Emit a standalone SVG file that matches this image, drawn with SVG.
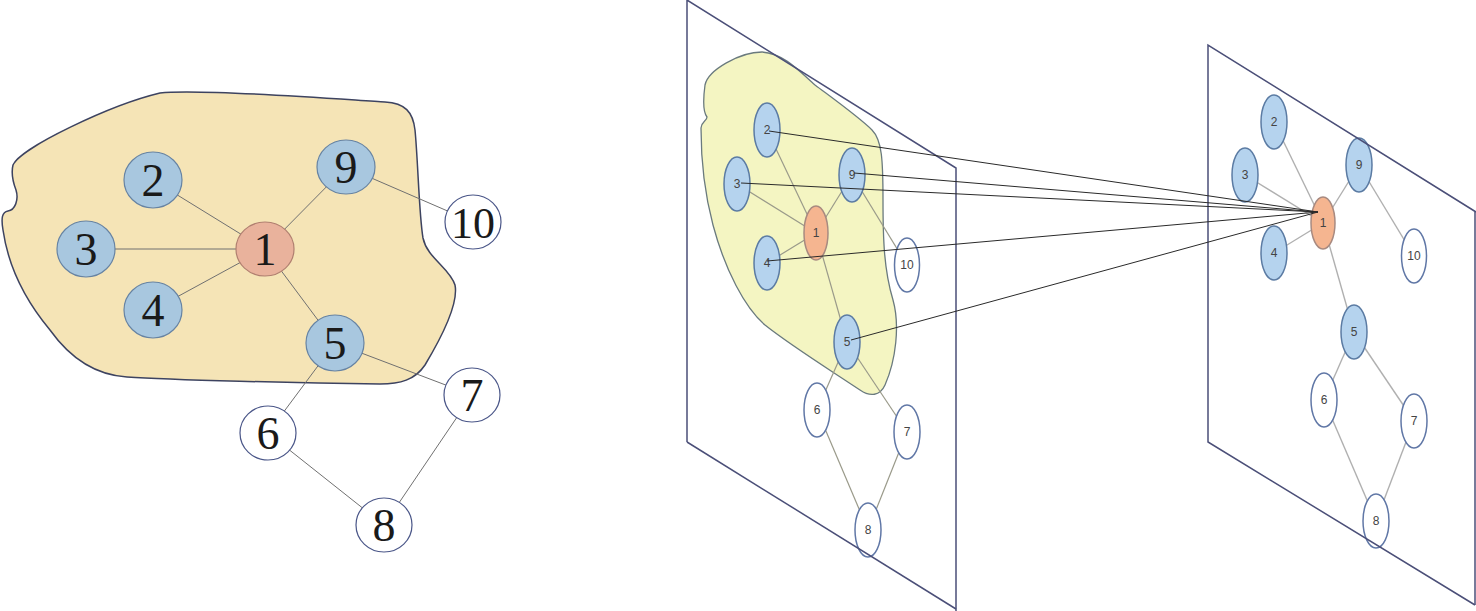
<svg xmlns="http://www.w3.org/2000/svg" width="1476" height="611" viewBox="0 0 1476 611">
<style>
.bg{fill:#ffffff}
.blobL{fill:#F5E4B6;stroke:#3d4360;stroke-width:1.5}
.blobM{fill:#F4F5C2;stroke:#6a7a7e;stroke-width:1.3}
.plane{fill:none;stroke:#4b4f78;stroke-width:1.5}
.eL{stroke:#707070;stroke-width:1;fill:none}
.eM{stroke:#9a9a8a;stroke-width:1.2;fill:none}
.eR{stroke:#b0b0b0;stroke-width:1.4;fill:none}
.x{stroke:#2a2a2a;stroke-width:1;fill:none}
.nbL{fill:#A8C7DF;stroke:#6683a3;stroke-width:1.2}
.nsL{fill:#E9B29C;stroke:#b07f70;stroke-width:1.2}
.nwL{fill:#ffffff;stroke:#4a5688;stroke-width:1.2}
.nb{fill:#B5D3EE;stroke:#5b7ba3;stroke-width:1.5}
.ns{fill:#F5B590;stroke:#a88a80;stroke-width:1.5}
.nw{fill:#ffffff;stroke:#6077a6;stroke-width:1.5}
.tL{font-family:"Liberation Serif",serif;font-size:46px;fill:#1a1a1a;text-anchor:middle}
.tS{font-family:"Liberation Sans",sans-serif;font-size:12px;fill:#444;text-anchor:middle}
</style>
<rect class="bg" x="0" y="0" width="1476" height="611"/>

<!-- LEFT GRAPH -->
<g id="left-region">
<path class="blobL" d="M13,165 C20,148 110,105 160,93 C200,88 350,100 385,102 C405,103 413,112 415,130 C418,160 419,215 423,238 C427,258 450,268 455,285 C459,305 440,340 425,365 C415,380 400,384 380,384 C300,383 170,380 127,377 C95,375 70,358 50,330 C25,300 8,265 3,230 C1,218 2,212 8,211 C15,210 19,200 16,190 C13,182 11,173 13,165 Z"/>
</g>
<g id="left-edges">
<line class="eL" x1="153" y1="180" x2="265" y2="249"/>
<line class="eL" x1="86" y1="249" x2="265" y2="249"/>
<line class="eL" x1="153" y1="310" x2="265" y2="249"/>
<line class="eL" x1="346" y1="167" x2="265" y2="249"/>
<line class="eL" x1="335" y1="343" x2="265" y2="249"/>
<line class="eL" x1="346" y1="167" x2="473" y2="222"/>
<line class="eL" x1="335" y1="343" x2="472" y2="395"/>
<line class="eL" x1="335" y1="343" x2="268" y2="433"/>
<line class="eL" x1="268" y1="433" x2="384" y2="525"/>
<line class="eL" x1="472" y1="395" x2="384" y2="525"/>
</g>
<g id="L2"><ellipse class="nbL" cx="153" cy="180" rx="29" ry="28"/><text class="tL" x="153" y="196">2</text></g>
<g id="L3"><ellipse class="nbL" cx="86" cy="249" rx="29" ry="28"/><text class="tL" x="86" y="265">3</text></g>
<g id="L4"><ellipse class="nbL" cx="153" cy="310" rx="29" ry="28"/><text class="tL" x="153" y="326">4</text></g>
<g id="L1"><ellipse class="nsL" cx="265" cy="249" rx="29" ry="27"/><text class="tL" x="265" y="265">1</text></g>
<g id="L9"><ellipse class="nbL" cx="346" cy="167" rx="29" ry="27"/><text class="tL" x="346" y="183">9</text></g>
<g id="L10"><ellipse class="nwL" cx="473" cy="222" rx="28" ry="27"/><text class="tL" x="473" y="238" style="font-size:44px">10</text></g>
<g id="L5"><ellipse class="nbL" cx="335" cy="343" rx="29" ry="28"/><text class="tL" x="335" y="359">5</text></g>
<g id="L7"><ellipse class="nwL" cx="472" cy="395" rx="28" ry="27"/><text class="tL" x="472" y="411">7</text></g>
<g id="L6"><ellipse class="nwL" cx="268" cy="433" rx="28" ry="27"/><text class="tL" x="268" y="449">6</text></g>
<g id="L8"><ellipse class="nwL" cx="384" cy="525" rx="28" ry="27"/><text class="tL" x="384" y="541">8</text></g>

<!-- MIDDLE PLANE -->
<g id="middle-region">
<path class="blobM" d="M705,85 C708,70 740,52 762,52 C785,54 800,72 815,85 C835,100 860,118 872,130 C882,140 883,160 883,200 C883,240 884,270 893,300 C900,325 896,360 885,385 C880,396 870,397 860,390 C830,370 790,345 765,325 C745,308 725,270 713,225 C705,195 701,165 701,128 C701,122 707,121 707,117 C703,112 703,100 705,85 Z"/>
</g>
<g id="middle-edges">
<line class="eM" x1="767" y1="130" x2="816" y2="233"/>
<line class="eM" x1="737" y1="184" x2="816" y2="233"/>
<line class="eM" x1="767" y1="263" x2="816" y2="233"/>
<line class="eM" x1="852" y1="175" x2="816" y2="233"/>
<line class="eM" x1="816" y1="233" x2="847" y2="342"/>
<line class="eM" x1="852" y1="175" x2="907" y2="265"/>
<line class="eM" x1="847" y1="342" x2="817" y2="410"/>
<line class="eM" x1="847" y1="342" x2="907" y2="432"/>
<line class="eM" x1="817" y1="410" x2="868" y2="530"/>
<line class="eM" x1="907" y1="432" x2="868" y2="530"/>
</g>
<g id="M2"><ellipse class="nb" cx="767" cy="130" rx="13" ry="27"/><text class="tS" x="767" y="134">2</text></g>
<g id="M3"><ellipse class="nb" cx="737" cy="184" rx="13" ry="27"/><text class="tS" x="737" y="188">3</text></g>
<g id="M9"><ellipse class="nb" cx="852" cy="175" rx="13" ry="27"/><text class="tS" x="852" y="179">9</text></g>
<g id="M1"><ellipse class="ns" cx="816" cy="233" rx="12" ry="27"/><text class="tS" x="816" y="237">1</text></g>
<g id="M4"><ellipse class="nb" cx="767" cy="263" rx="13" ry="27"/><text class="tS" x="767" y="267">4</text></g>
<g id="M10"><ellipse class="nw" cx="907" cy="265" rx="12.5" ry="27"/><text class="tS" x="907" y="269">10</text></g>
<g id="M5"><ellipse class="nb" cx="847" cy="342" rx="13" ry="27"/><text class="tS" x="847" y="346">5</text></g>
<g id="M6"><ellipse class="nw" cx="817" cy="410" rx="13" ry="27"/><text class="tS" x="817" y="414">6</text></g>
<g id="M7"><ellipse class="nw" cx="907" cy="432" rx="13" ry="27"/><text class="tS" x="907" y="436">7</text></g>
<g id="M8"><ellipse class="nw" cx="868" cy="530" rx="13" ry="27"/><text class="tS" x="868" y="534">8</text></g>
<g id="middle-plane">
<polyline class="plane" points="687,442 687,0 956,168 956,611"/>
<line class="plane" x1="687" y1="442" x2="956" y2="609"/>
</g>

<!-- RIGHT PLANE -->
<g id="right-edges">
<line class="eR" x1="1274" y1="122" x2="1323" y2="223"/>
<line class="eR" x1="1245" y1="175" x2="1323" y2="223"/>
<line class="eR" x1="1274" y1="253" x2="1323" y2="223"/>
<line class="eR" x1="1359" y1="165" x2="1323" y2="223"/>
<line class="eR" x1="1323" y1="223" x2="1354" y2="332"/>
<line class="eR" x1="1359" y1="165" x2="1414" y2="256"/>
<line class="eR" x1="1354" y1="332" x2="1324" y2="400"/>
<line class="eR" x1="1354" y1="332" x2="1414" y2="421"/>
<line class="eR" x1="1324" y1="400" x2="1376" y2="521"/>
<line class="eR" x1="1414" y1="421" x2="1376" y2="521"/>
</g>
<g id="R2"><ellipse class="nb" cx="1274" cy="122" rx="13" ry="27"/><text class="tS" x="1274" y="126">2</text></g>
<g id="R3"><ellipse class="nb" cx="1245" cy="175" rx="13" ry="27"/><text class="tS" x="1245" y="179">3</text></g>
<g id="R9"><ellipse class="nb" cx="1359" cy="165" rx="13" ry="27"/><text class="tS" x="1359" y="169">9</text></g>
<g id="R1"><ellipse class="ns" cx="1323" cy="223" rx="12" ry="26"/><text class="tS" x="1323" y="227">1</text></g>
<g id="R4"><ellipse class="nb" cx="1274" cy="253" rx="13" ry="27"/><text class="tS" x="1274" y="257">4</text></g>
<g id="R10"><ellipse class="nw" cx="1414" cy="256" rx="12.5" ry="27"/><text class="tS" x="1414" y="260">10</text></g>
<g id="R5"><ellipse class="nb" cx="1354" cy="332" rx="13" ry="27"/><text class="tS" x="1354" y="336">5</text></g>
<g id="R6"><ellipse class="nw" cx="1324" cy="400" rx="13" ry="27"/><text class="tS" x="1324" y="404">6</text></g>
<g id="R7"><ellipse class="nw" cx="1414" cy="421" rx="13" ry="27"/><text class="tS" x="1414" y="425">7</text></g>
<g id="R8"><ellipse class="nw" cx="1376" cy="521" rx="13" ry="27"/><text class="tS" x="1376" y="525">8</text></g>
<g id="right-plane">
<polyline class="plane" points="1475,605 1208,442 1208,45 1476,212"/>
<line class="plane" x1="1475" y1="212" x2="1475" y2="605"/>
</g>

<!-- CROSS-PLANE CONNECTORS -->
<g id="connectors">
<line class="x" x1="769" y1="131" x2="1318" y2="212"/>
<line class="x" x1="854" y1="173" x2="1318" y2="212"/>
<line class="x" x1="741" y1="183" x2="1318" y2="212"/>
<line class="x" x1="767" y1="261" x2="1318" y2="212"/>
<line class="x" x1="851" y1="340" x2="1318" y2="212"/>
</g>
</svg>
